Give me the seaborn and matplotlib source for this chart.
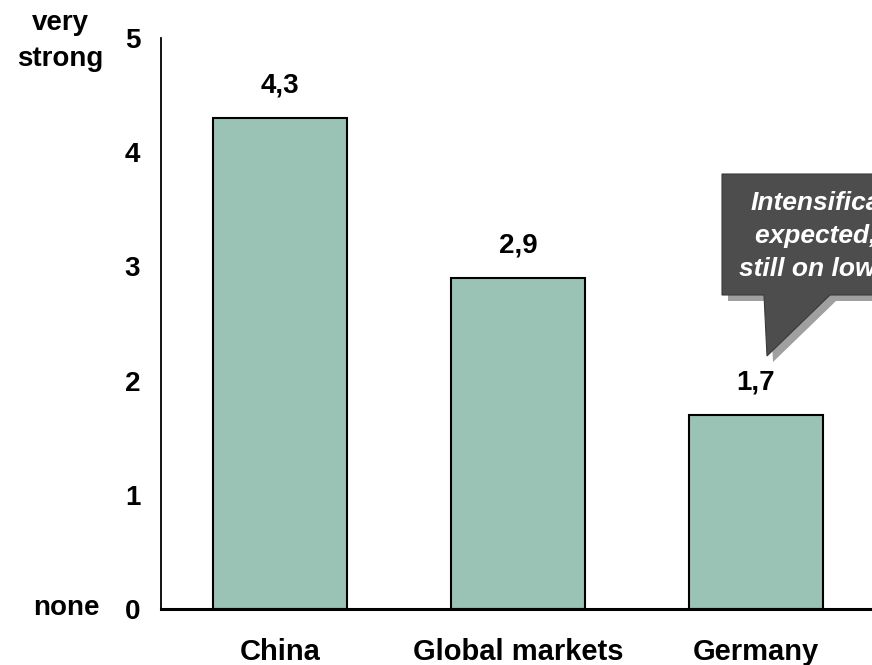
import matplotlib
matplotlib.use("Agg")
import matplotlib.pyplot as plt
import seaborn as sns
import pandas as pd
from matplotlib.patches import Polygon

categories = ["China", "Global markets", "Germany"]
values = [4.3, 2.9, 1.7]
value_labels = ["4,3", "2,9", "1,7"]
y_ticks = [0, 1, 2, 3, 4, 5]
callout_text = "Intensification\nexpected, but\nstill on low level"

sns.set_theme(style="white")
plt.rcParams['font.family'] = ['Liberation Sans', 'DejaVu Sans']
plt.rcParams['text.color'] = 'black'
plt.rcParams['xtick.color'] = 'black'
plt.rcParams['ytick.color'] = 'black'

FS = 20
W, H = 872, 665
fig = plt.figure(figsize=(W / 100, H / 100), dpi=100)
ax = fig.add_axes([161 / W, 1 - 609 / H, 714 / W, (609 - 38) / H])

df = pd.DataFrame({"cat": categories, "val": values})
sns.barplot(data=df, x="cat", y="val", ax=ax, color="#9ac3b5", saturation=1,
            width=0.565, edgecolor="black", linewidth=1.5)

ax.set_xlim(-0.5, 2.5)
ax.set_ylim(0, 5)
ax.set_xlabel("")
ax.set_ylabel("")
ax.set_yticks(y_ticks)
ax.set_yticklabels([str(t) for t in y_ticks], fontsize=FS, fontweight="bold")
ax.set_xticks([-0.5, 0.5, 1.5, 2.5], minor=False)
ax.set_xticklabels([])
ax.set_xticks(range(len(categories)), minor=True)
ax.set_xticklabels(categories, minor=True, fontsize=21, fontweight="bold")
ax.tick_params(axis="x", which="minor", length=0, pad=21)
ax.tick_params(axis="x", which="major", length=6, width=1.2, direction="out")
ax.tick_params(axis="y", length=6, width=1.2, direction="out", pad=9)
for s in ["top", "right"]:
    ax.spines[s].set_visible(False)
ax.spines["left"].set_color("black")
ax.spines["left"].set_linewidth(1.3)
ax.spines["bottom"].set_color("black")
ax.spines["bottom"].set_linewidth(2.2)
ax.grid(False)

for i, (v, lab) in enumerate(zip(values, value_labels)):
    ax.annotate(lab, (i, v), xytext=(0, 18.5), textcoords="offset points",
                ha="center", va="baseline", fontsize=FS, fontweight="bold")

fig.text(60 / W, 1 - 41 / H, "very\nstrong", ha="center", va="center", fontsize=FS,
         fontweight="bold", linespacing=1.45)
fig.text(66 / W, 1 - 615 / H, "none", ha="center", va="baseline", fontsize=FS, fontweight="bold")

def px(pts):
    return [(x / W, 1 - y / H) for x, y in pts]

callout = [(722, 174), (900, 174), (900, 295), (830, 295), (767, 356), (764, 295), (722, 295)]
shadow = [(x + 6, y + 6) for x, y in callout]
fig.patches.append(Polygon(px(shadow), closed=True, transform=fig.transFigure,
                           facecolor="#a0a0a0", edgecolor="none", zorder=5))
fig.patches.append(Polygon(px(callout), closed=True, transform=fig.transFigure,
                           facecolor="#4d4d4d", edgecolor="#3a3a3a", linewidth=0.8, zorder=6))
fig.text(840 / W, 1 - 236 / H, callout_text,
         ha="center", va="center", fontsize=19, fontweight="bold", fontstyle="italic",
         color="white", linespacing=1.45, zorder=7)

fig.savefig("out.png", dpi=100)
